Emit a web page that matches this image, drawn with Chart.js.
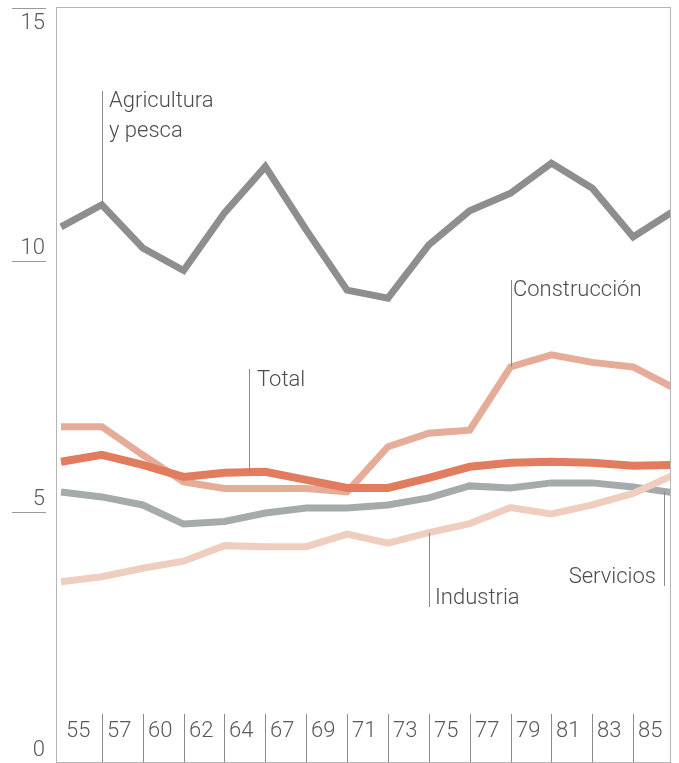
<!DOCTYPE html>
<html>
<head>
<meta charset="utf-8">
<script src="https://cdn.jsdelivr.net/npm/chart.js@4.4.0/dist/chart.umd.min.js"></script>
<style>
  html, body { margin: 0; padding: 0; background: #fff; }
  canvas { display: block; }
</style>
</head>
<body>
<canvas id="chart" width="679" height="763"></canvas>
<script>
const years = ['55', '57', '60', '62', '64', '67', '69', '71', '73', '75', '77', '79', '81', '83', '85', ''];
const yTicks = [0, 5, 10, 15];

const agricultura = [10.68, 11.12, 10.26, 9.81, 10.96, 11.88, 10.62, 9.42, 9.26, 10.32, 11.0, 11.35, 11.95, 11.45, 10.48, 11.0];
const construccion = [6.70, 6.70, 6.14, 5.60, 5.47, 5.47, 5.47, 5.40, 6.30, 6.57, 6.63, 7.89, 8.13, 7.98, 7.89, 7.47];
const total = [6.00, 6.14, 5.94, 5.70, 5.78, 5.80, 5.64, 5.48, 5.48, 5.68, 5.90, 5.98, 6.00, 5.98, 5.92, 5.94];
const servicios = [5.40, 5.30, 5.14, 4.76, 4.81, 4.98, 5.08, 5.08, 5.14, 5.28, 5.52, 5.48, 5.58, 5.58, 5.50, 5.38];
const industria = [3.61, 3.71, 3.88, 4.02, 4.33, 4.31, 4.31, 4.56, 4.38, 4.59, 4.77, 5.09, 4.96, 5.14, 5.37, 5.74];

const FONT = '300 22px Roboto, "Liberation Sans", sans-serif';
const TEXT_COLOR = '#4d4d4d';
const RULE_COLOR = '#8a8a8a';
const FRAME = { left: 56, right: 670, top: 7, bottom: 762 };

// series label, where its leader meets the line (category index), and text placement
const callouts = [
  { lines: ['Agricultura', 'y pesca'], data: agricultura, at: 1, from: 91, textX: 109, textY: 101, align: 'left' },
  { lines: ['Construcción'], data: construccion, at: 11, from: 280, textX: 513, textY: 290, align: 'left' },
  { lines: ['Total'], data: total, at: 4.6, from: 369, textX: 257, textY: 380, align: 'left' },
  { lines: ['Industria'], data: industria, at: 9, from: 607, textX: 435, textY: 598, align: 'left' },
  { lines: ['Servicios'], data: servicios, at: 14.75, from: 586, textX: 656, textY: 577, align: 'right' },
];

const valueAt = (arr, i) => {
  const a = Math.floor(i);
  const f = i - a;
  return f ? arr[a] + (arr[a + 1] - arr[a]) * f : arr[a];
};

const line = (ctx, x1, y1, x2, y2) => {
  ctx.beginPath();
  ctx.moveTo(x1, y1);
  ctx.lineTo(x2, y2);
  ctx.stroke();
};

const decorations = {
  id: 'decorations',
  beforeDatasetsDraw(chart) {
    const { ctx, scales: { x, y } } = chart;
    ctx.save();
    ctx.lineWidth = 1;
    ctx.strokeStyle = '#b5b5b5';
    ctx.strokeRect(FRAME.left + 0.5, FRAME.top + 0.5, FRAME.right - FRAME.left, FRAME.bottom - FRAME.top);

    ctx.font = FONT;
    ctx.fillStyle = '#5a5a5a';
    ctx.textAlign = 'right';
    ctx.textBaseline = 'middle';
    yTicks.forEach((v) => {
      const py = Math.round(y.getPixelForValue(v)) - (v === 15 ? 2 : 0);
      ctx.strokeStyle = '#9a9a9a';
      line(ctx, 12, py + 0.5, 46, py + 0.5);
      ctx.fillText(String(v), 45, v === 15 ? py + 15 : py - 13);
    });

    ctx.textAlign = 'left';
    ctx.strokeStyle = RULE_COLOR;
    years.forEach((label, i) => {
      if (!label) return;
      const px = Math.round(x.getPixelForValue(i));
      if (i > 0) line(ctx, px + 0.5, 714, px + 0.5, FRAME.bottom);
      ctx.fillText(label, px + 5, 731);
    });
    ctx.restore();
  },
  afterDatasetsDraw(chart) {
    const { ctx, scales: { x, y } } = chart;
    ctx.save();
    ctx.font = FONT;
    ctx.fillStyle = TEXT_COLOR;
    ctx.strokeStyle = RULE_COLOR;
    ctx.lineWidth = 1;
    ctx.textBaseline = 'middle';
    callouts.forEach((c) => {
      const px = Math.round(x.getPixelForValue(c.at)) + 0.5;
      const py = y.getPixelForValue(valueAt(c.data, c.at));
      line(ctx, px, c.from, px, py);
      ctx.textAlign = c.align;
      c.lines.forEach((t, k) => ctx.fillText(t, c.textX, c.textY + k * 30));
    });
    ctx.restore();
  },
};

const series = (data, color, width) => ({
  data,
  borderColor: color,
  borderWidth: width,
  pointRadius: 0,
  tension: 0,
  borderJoinStyle: 'miter',
  clip: { left: 10, top: 10, right: -4, bottom: 10 },
});

new Chart(document.getElementById('chart'), {
  type: 'line',
  data: {
    labels: years,
    datasets: [
      series(total, '#e27c5e', 8),
      series(agricultura, '#8e8e8e', 7),
      series(construccion, '#e6ac9a', 7),
      series(industria, '#efcdbf', 7),
      series(servicios, '#a5abaa', 7),
    ],
  },
  options: {
    responsive: false,
    animation: false,
    layout: { padding: { left: 61, right: 5, top: 10, bottom: 0 } },
    scales: {
      x: { display: false },
      y: { display: false, min: 0, max: 15 },
    },
    plugins: {
      legend: { display: false },
      tooltip: { enabled: false },
    },
  },
  plugins: [decorations],
});
</script>
</body>
</html>
